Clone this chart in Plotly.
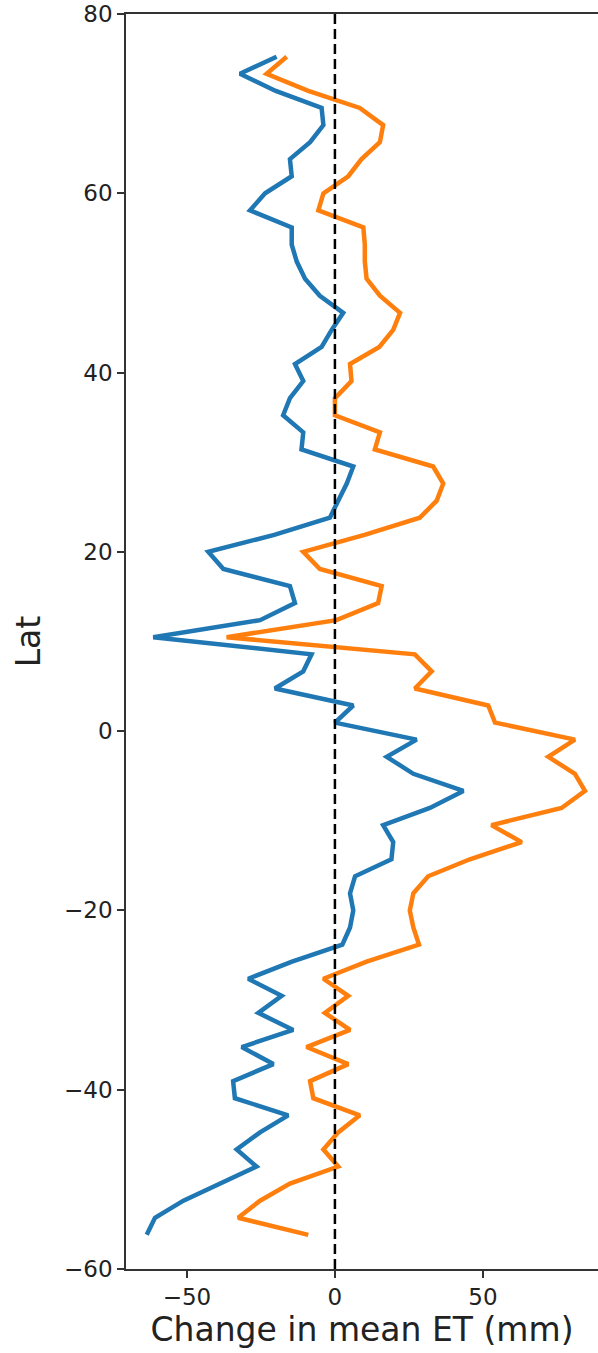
import plotly.graph_objects as go

lat = [-56.19, -54.28, -52.38, -50.47, -48.57, -46.66, -44.76, -42.86, -40.95, -39.05,
       -37.14, -35.24, -33.33, -31.43, -29.52, -27.62, -25.71, -23.81, -21.90, -20.00,
       -18.09, -16.19, -14.29, -12.38, -10.48, -8.57, -6.67, -4.76, -2.86, -0.95,
       0.95, 2.86, 4.76, 6.67, 8.57, 10.48, 12.38, 14.29, 16.19, 18.09,
       20.00, 21.90, 23.81, 25.71, 27.62, 29.52, 31.43, 33.33, 35.24, 37.14,
       39.05, 40.95, 42.86, 44.76, 46.66, 48.57, 50.47, 52.38, 54.28, 56.19,
       58.09, 60.00, 61.90, 63.81, 65.71, 67.61, 69.52, 71.42, 73.33, 75.23]

blue_et = [-63.6, -60.8, -51.2, -38.9, -26.5, -33.2, -25.3, -15.8, -33.8, -34.4,
           -20.8, -31.5, -14.1, -25.9, -18.0, -29.3, -14.5, 2.5, 5.1, 6.2,
           5.1, 6.8, 19.1, 19.7, 16.3, 32.1, 43.4, 26.5, 17.5, 27.6,
           0.0, 6.2, -20.3, -10.7, -7.9, -61.4, -25.3, -13.5, -15.2, -37.7,
           -42.8, -20.5, -1.7, 1.1, 4.0, 6.2, -11.3, -10.7, -17.5, -15.2,
           -10.7, -13.5, -4.5, -1.1, 2.8, -5.1, -10.1, -12.9, -14.6, -14.6,
           -28.7, -23.6, -14.6, -15.2, -8.4, -3.9, -4.5, -20.0, -32.1, -19.7]

orange_et = [-9.0, -32.7, -25.3, -15.2, 1.1, -3.9, 1.1, 8.4, -7.3, -8.4,
             4.5, -9.6, 5.1, -3.4, 4.5, -3.9, 10.7, 28.4, 26.5, 25.3,
             26.5, 31.5, 45.6, 63.1, 52.9, 76.6, 84.5, 81.1, 72.1, 81.1,
             54.1, 51.8, 27.0, 32.7, 27.0, -36.6, 0.5, 14.6, 15.8, -5.1,
             -10.7, 10.0, 28.7, 34.4, 36.6, 33.2, 13.5, 15.2, 0.0, 0.0,
             5.6, 5.1, 15.0, 19.7, 22.0, 15.2, 10.7, 10.1, 10.1, 9.6,
             -5.6, -3.9, 4.5, 9.0, 15.2, 16.3, 8.4, -9.0, -23.1, -16.3]

x_ticks = [-50, 0, 50]
y_ticks = [-60, -40, -20, 0, 20, 40, 60, 80]
x_range = [-70.6, 88.9]
y_range = [-60, 80]

fig = go.Figure()
fig.add_trace(go.Scatter(x=blue_et, y=lat, mode="lines",
                         line=dict(color="#1f77b4", width=4.5), showlegend=False))
fig.add_trace(go.Scatter(x=orange_et, y=lat, mode="lines",
                         line=dict(color="#ff7f0e", width=4.5), showlegend=False))
fig.add_trace(go.Scatter(x=[0, 0], y=y_range, mode="lines",
                         line=dict(color="black", width=2.5, dash="10px,5px"),
                         showlegend=False))

font_family = "DejaVu Sans"
fig.update_layout(
    width=598, height=1353,
    margin=dict(l=126, r=0, t=14, b=84, autoexpand=False),
    paper_bgcolor="white", plot_bgcolor="white",
    font=dict(family=font_family, color="#222222"),
    xaxis=dict(range=x_range, tickvals=x_ticks, ticktext=["\u221250", "0", "50"],
               showgrid=False, zeroline=False, showline=True, linecolor="#333333",
               linewidth=1.5, mirror=True, ticks="outside", ticklen=7, tickwidth=1.5,
               tickcolor="#333333", tickfont=dict(size=23, family=font_family),
               ticklabeloverflow="allow", automargin=False,
               title=dict(text="Change in mean ET (mm)", font=dict(size=33, family=font_family),
                          standoff=8)),
    yaxis=dict(range=y_range, tickvals=y_ticks,
               ticktext=["\u221260", "\u221240", "\u221220", "0", "20", "40", "60", "80"],
               showgrid=False, zeroline=False, showline=True, linecolor="#333333",
               linewidth=1.5, mirror=False, ticks="outside", ticklen=7, tickwidth=1.5,
               tickcolor="#333333", tickfont=dict(size=23, family=font_family),
               ticklabeloverflow="allow", automargin=False,
               title=dict(text="Lat", font=dict(size=33, family=font_family), standoff=14)),
)

fig.write_html("out.html", config={"displayModeBar": False},
               post_script="document.body.style.margin='0';")
